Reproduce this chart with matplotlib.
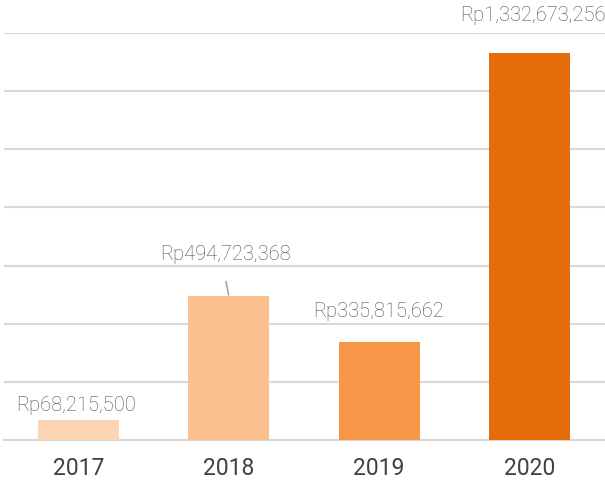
import matplotlib.pyplot as plt
from matplotlib.ticker import MultipleLocator

years = ["2017", "2018", "2019", "2020"]
values = [68215500, 494723368, 335815662, 1332673256]
labels = ["Rp68,215,500", "Rp494,723,368", "Rp335,815,662", "Rp1,332,673,256"]
colors = ["#FCD5B5", "#FAC090", "#F79646", "#E46C0A"]

# label offsets from bar top (pixels)
offsets = [(-3, 15), (-3, 42), (-1, 31), (3, 37)]

plt.rcParams["font.family"] = ["Roboto", "DejaVu Sans"]

fig = plt.figure(figsize=(6.05, 4.84), dpi=100)
ax = fig.add_axes([3.5 / 605, 1 - 440 / 484, 601 / 605, 407 / 484])

x = list(range(len(years)))
ax.bar(x, values, width=0.54, color=colors, zorder=3)

ax.set_xlim(-0.5, 3.5)
ax.set_ylim(0, 1.4e9)
ax.yaxis.set_major_locator(MultipleLocator(2e8))
ax.grid(axis="y", color="#D9D9D9", linewidth=1.5, zorder=0)
ax.set_yticklabels([])
ax.tick_params(axis="y", length=0)
ax.tick_params(axis="x", length=0, pad=12, labelsize=16.5, labelcolor="#404040")
ax.set_xticks(x)
ax.set_xticklabels(years)
for s in ["top", "right", "left"]:
    ax.spines[s].set_visible(False)
ax.spines["bottom"].set_color("#D9D9D9")
ax.spines["bottom"].set_linewidth(1.5)

for i, (v, lab, off) in enumerate(zip(values, labels, offsets)):
    if i == 1:
        ax.annotate(lab, xy=(i, v), xytext=off, textcoords="offset pixels",
                    ha="center", va="center", fontsize=14.5, color="#4D4D4D",
                    fontweight="light",
                    arrowprops=dict(arrowstyle="-", color="#A6A6A6", lw=1.2,
                                    shrinkA=11, shrinkB=1, relpos=(0.46, 0.5)))
    else:
        ax.annotate(lab, xy=(i, v), xytext=off, textcoords="offset pixels",
                    ha="center", va="center", fontsize=14.5, color="#4D4D4D",
                    fontweight="light")

fig.savefig("out.png", dpi=100)
